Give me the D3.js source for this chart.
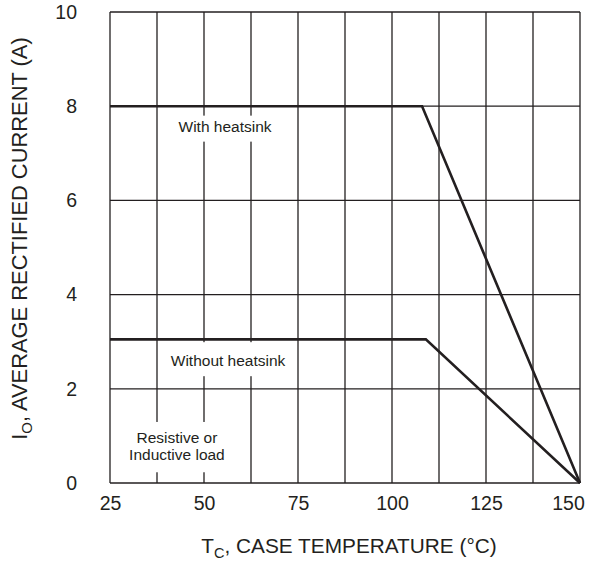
<!DOCTYPE html>
<html>
<head>
<meta charset="utf-8">
<script src="https://cdn.jsdelivr.net/npm/d3@7"></script>
<style>
  body { margin: 0; background: #fff; }
  svg { font-family: "Liberation Sans", Arial, sans-serif; }
</style>
</head>
<body>
<svg id="chart" width="589" height="565"></svg>
<script>
// derating curves
var withTemp = [25, 108, 150];
var withCurrent = [8, 8, 0];
var withoutTemp = [25, 109, 150];
var withoutCurrent = [3.05, 3.05, 0];

var xTicks = [25, 50, 75, 100, 125, 150];
var yTicks = [0, 2, 4, 6, 8, 10];
var xGrid = d3.range(25, 150.1, 12.5);

// note text, position in data units, box padding above / below
var notes = [
    { lines: ["With heatsink"], t: 55.6, i: 7.46, padT: 2, padB: 7 },
    { lines: ["Without heatsink"], t: 56.4, i: 2.48, padT: 10, padB: 7 },
    { lines: ["Resistive or", "Inductive load"], t: 42.8, i: 0.85, padT: 7, padB: 9 }
];

var svg = d3.select("#chart");
var ink = "#231f20";

var x = d3.scaleLinear().domain([25, 150]).range([110, 580]);
var y = d3.scaleLinear().domain([0, 10]).range([483, 12]);

// grid
svg.append("g").selectAll("line")
    .data(xGrid)
    .enter().append("line")
    .attr("x1", d => x(d)).attr("x2", d => x(d))
    .attr("y1", y(0)).attr("y2", y(10))
    .attr("stroke", ink).attr("stroke-width", 1.3);

svg.append("g").selectAll("line")
    .data(yTicks)
    .enter().append("line")
    .attr("x1", x(25)).attr("x2", x(150))
    .attr("y1", d => y(d)).attr("y2", d => y(d))
    .attr("stroke", ink).attr("stroke-width", 1.3);

// notes sit on white boxes that hide the grid
notes.forEach(function (n) {
    var g = svg.append("g");
    var txt = g.append("text")
        .attr("x", x(n.t))
        .attr("y", y(n.i))
        .attr("text-anchor", "middle")
        .attr("font-size", 15.5)
        .attr("fill", ink);
    txt.selectAll("tspan")
        .data(n.lines)
        .enter().append("tspan")
        .attr("x", x(n.t))
        .attr("dy", (d, k) => k === 0 ? 0 : 17.3)
        .text(d => d);
    var b = txt.node().getBBox();
    g.insert("rect", "text")
        .attr("x", b.x - 8).attr("y", b.y - n.padT)
        .attr("width", b.width + 16).attr("height", b.height + n.padT + n.padB)
        .attr("fill", "#fff");
});

// curves
var line = d3.line()
    .x(d => x(d[0]))
    .y(d => y(d[1]));

svg.append("path")
    .datum(d3.zip(withTemp, withCurrent))
    .attr("d", line)
    .attr("fill", "none").attr("stroke", ink).attr("stroke-width", 2.6);

svg.append("path")
    .datum(d3.zip(withoutTemp, withoutCurrent))
    .attr("d", line)
    .attr("fill", "none").attr("stroke", ink).attr("stroke-width", 2.6);

// axes
var xAxis = svg.append("g")
    .attr("transform", "translate(0," + y(0) + ")")
    .call(d3.axisBottom(x).tickValues(xTicks).tickSize(0).tickPadding(13));
xAxis.select(".domain").remove();
xAxis.selectAll("text")
    .attr("font-size", 19.5)
    .attr("font-family", "Liberation Sans, Arial, sans-serif")
    .attr("fill", ink)
    .attr("dx", d => d === 150 ? -12 : 0);

var yAxis = svg.append("g")
    .attr("transform", "translate(" + x(25) + ",0)")
    .call(d3.axisLeft(y).tickValues(yTicks).tickSize(0).tickPadding(33));
yAxis.select(".domain").remove();
yAxis.selectAll("text")
    .attr("font-size", 19.5)
    .attr("font-family", "Liberation Sans, Arial, sans-serif")
    .attr("fill", ink);

// axis titles
var xt = svg.append("text")
    .attr("x", 349).attr("y", 553)
    .attr("text-anchor", "middle")
    .attr("font-size", 20.8)
    .attr("fill", ink);
xt.append("tspan").text("T");
xt.append("tspan").attr("font-size", 14.5).attr("dy", 5).text("C");
xt.append("tspan").attr("dy", -5).text(", CASE TEMPERATURE (°C)");

var yt = svg.append("text")
    .attr("transform", "translate(27,238.5) rotate(-90)")
    .attr("text-anchor", "middle")
    .attr("font-size", 21.9)
    .attr("fill", ink);
yt.append("tspan").text("I");
yt.append("tspan").attr("font-size", 15).attr("dy", 5).text("O");
yt.append("tspan").attr("dy", -5).text(", AVERAGE RECTIFIED CURRENT (A)");
</script>
</body>
</html>
